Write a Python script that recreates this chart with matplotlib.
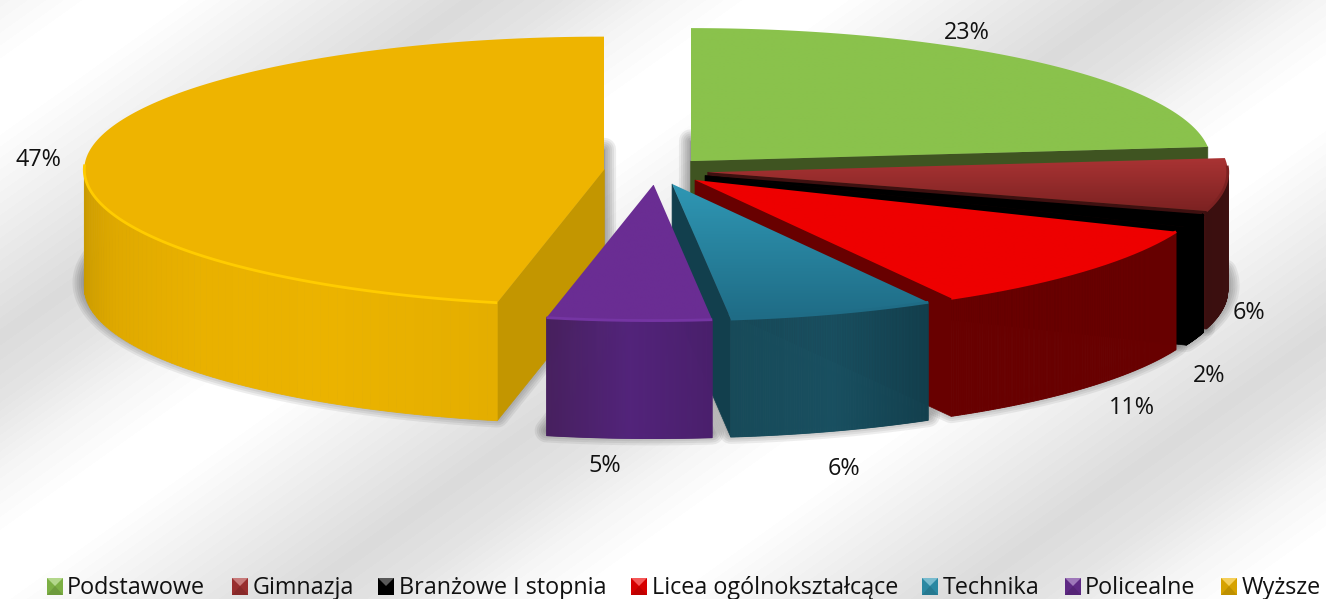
import numpy as np
import matplotlib
matplotlib.use('Agg')
import matplotlib.pyplot as plt
from matplotlib.colors import LinearSegmentedColormap, to_rgb
from matplotlib.patches import Polygon

categories = ['Podstawowe', 'Gimnazja', 'Branżowe I stopnia', 'Licea ogólnokształcące',
              'Technika', 'Policealne', 'Wyższe']
shares = [23.3, 6.3, 1.6, 10.6, 6.4, 5.1, 46.7]
pct_labels = ['23%', '6%', '2%', '11%', '6%', '5%', '47%']

top_cols = [['#8AC24C', '#8AC24C'], ['#A93333', '#7C2222'], ['#000000', '#000000'],
            ['#EE0000', '#EE0000'], ['#2F97B4', '#1F6C86'], ['#6A2D93', '#6A2D93'],
            ['#EEB400', '#EEB400']]
rim_cols = ['#9BD05A', '#7C2222', '#000000', '#EE0000', '#1F6C86', '#7535A3', '#FFCC00']
wall_cols = [['#3F5421'], ['#3E1010', '#3A0F0F'], ['#000000'], ['#680000'],
             ['#123F4D', '#184F60', '#174A59'], ['#4A1F6C', '#52237A', '#47205F'],
             ['#E4AE00', '#EBB300', '#E9B100', '#DFA900', '#C99A00']]
face_cols = ['#3F5421', '#3E1010', '#000000', '#680000', '#123F4D', '#4A1F6C', '#C39600']
draw_order = [0, 1, 2, 3, 6, 4, 5]

# layout of the projected pie, in pixels
W, H = 1326, 599
CX, CY, RX, RY_BACK, RY_FRONT = 656, 171, 520, 133, 136
DEPTH = 118
EXPLODE = 0.10
label_xy = [(967, 31), (1249, 311), (1209, 374), (1132, 406), (844, 467), (605, 464), (38, 158)]
swatch_x = [47, 232, 378, 631, 922, 1065, 1221]
text_x = [67, 253, 399, 652, 943, 1085, 1242]

plt.rcParams['font.family'] = ['Open Sans', 'DejaVu Sans']


def project(theta, c=(CX, CY), r=1.0):
    '''theta in radians, clockwise from 12 o'clock, to pixel coords'''
    cs = np.cos(theta)
    return c[0] + RX * r * np.sin(theta), c[1] - np.where(cs > 0, RY_BACK, RY_FRONT) * r * cs


def blend(stops, n):
    pos = np.linspace(0, 1, len(stops))
    rgb = np.array([to_rgb(s) for s in stops])
    t = np.linspace(0, 1, n)
    return np.column_stack([np.interp(t, pos, rgb[:, i]) for i in range(3)])


def gradient_fill(ax, poly, c0, c1, z):
    '''vertical gradient clipped to a polygon'''
    cmap = LinearSegmentedColormap.from_list('g', [c0, c1])
    x0, y0 = poly.min(axis=0)
    x1, y1 = poly.max(axis=0)
    im = ax.imshow(np.linspace(0, 1, 64).reshape(-1, 1), cmap=cmap, aspect='auto',
                   extent=(x0, x1, y1, y0), zorder=z, interpolation='bilinear')
    patch = Polygon(poly, closed=True, transform=ax.transData, fc='none', ec='none')
    ax.add_patch(patch)
    im.set_clip_path(patch)


def draw_shadow(ax, centre, t0, t1):
    tt = np.linspace(t0, t1, 120)
    x, y = project(tt, centre)
    pts = np.column_stack([np.r_[centre[0], x], np.r_[centre[1], y] + DEPTH - 5])
    for lw in np.arange(17, 1, -3):
        ax.add_patch(Polygon(pts, closed=True, fc='#404040', ec='#404040', lw=lw,
                             alpha=0.09, joinstyle='round', zorder=1))


def draw_slice(ax, i, centre, t0, t1, z):
    tt = np.linspace(t0, t1, 160)
    x, y = project(tt, centre)
    # cut faces, only those turned to the viewer
    for ang, sign in ((t0, -1), (t1, 1)):
        if np.cos(ang + sign * np.pi / 2) < 0:
            ex, ey = project(ang, centre)
            quad = [(centre[0], centre[1]), (ex, ey), (ex, ey + DEPTH),
                    (centre[0], centre[1] + DEPTH)]
            ax.add_patch(Polygon(quad, closed=True, fc=face_cols[i], ec=face_cols[i],
                                 lw=0.5, zorder=z))
    # outer wall on the front half, in thin strips
    front = tt[np.cos(tt) < 0]
    if len(front) > 1:
        cols = blend(wall_cols[i], len(front) - 1)
        # colours run left to right on the screen
        order = np.argsort(-np.sin(front[:-1]))
        fx, fy = project(front, centre)
        for k in range(len(front) - 1):
            quad = [(fx[k], fy[k]), (fx[k + 1], fy[k + 1]),
                    (fx[k + 1], fy[k + 1] + DEPTH), (fx[k], fy[k] + DEPTH)]
            col = cols[np.where(order == k)[0][0]]
            ax.add_patch(Polygon(quad, closed=True, fc=col, ec=col, lw=0.6, zorder=z))
    # top surface
    top = np.column_stack([np.r_[centre[0], x], np.r_[centre[1], y]])
    gradient_fill(ax, top, top_cols[i][0], top_cols[i][1], z + 0.1)
    keep = np.cos(tt) < 0.05
    ax.plot(x[keep], y[keep], color=rim_cols[i], lw=2, zorder=z + 0.2, solid_capstyle='butt')


fig = plt.figure(figsize=(W / 100, H / 100), dpi=100)
ax = fig.add_axes([0, 0, 1, 1])
ax.axis('off')

# background, repeating diagonal grey bands with slight banding
yy, xx = np.mgrid[0:H, 0:W]
phase = (xx + 1.4 * yy) % 660
grey = np.interp(phase, [0, 90, 180, 320, 470, 560, 660],
                 [.96, 1, 1, .93, .855, .89, .96])
grey = np.round(grey / 0.008) * 0.008
ax.imshow(grey, cmap='gray', vmin=0, vmax=1, extent=(0, W, H, 0), aspect='auto', zorder=0)

edges = np.r_[0, np.cumsum(shares)] / np.sum(shares) * 2 * np.pi
mids = (edges[:-1] + edges[1:]) / 2
centres = [tuple(float(v) for v in project(m, r=EXPLODE)) for m in mids]

for i in range(len(shares)):
    draw_shadow(ax, centres[i], edges[i], edges[i + 1])
for z, i in enumerate(draw_order):
    draw_slice(ax, i, centres[i], edges[i], edges[i + 1], 2 + z)

for txt, (lx, ly) in zip(pct_labels, label_xy):
    ax.text(lx, ly + 2, txt, ha='center', va='center', fontsize=16.8, color='#111111', zorder=20)

# legend row
for i, name in enumerate(categories):
    sx = swatch_x[i]
    base = np.array(to_rgb(top_cols[i][0]))
    light = base + (1 - base) * 0.35
    dark = base * 0.8
    x0, x1, y0, y1 = sx, sx + 16, 578, 595
    xm, ym = sx + 8, 586
    ax.add_patch(Polygon([(x0, y0), (x1, y0), (x1, y1), (x0, y1)], fc=base * 0.9, ec='none', zorder=20))
    ax.add_patch(Polygon([(x0, y0), (x1, y0), (xm, ym)], fc=light, ec='none', zorder=21))
    ax.add_patch(Polygon([(x0, y1), (x1, y1), (xm, ym)], fc=dark, ec='none', zorder=21))
    ax.text(text_x[i], 587.5, name, ha='left', va='center', fontsize=16.8, color='#111111', zorder=22)

ax.set_xlim(0, W)
ax.set_ylim(H, 0)
fig.savefig('out.png', dpi=100)
